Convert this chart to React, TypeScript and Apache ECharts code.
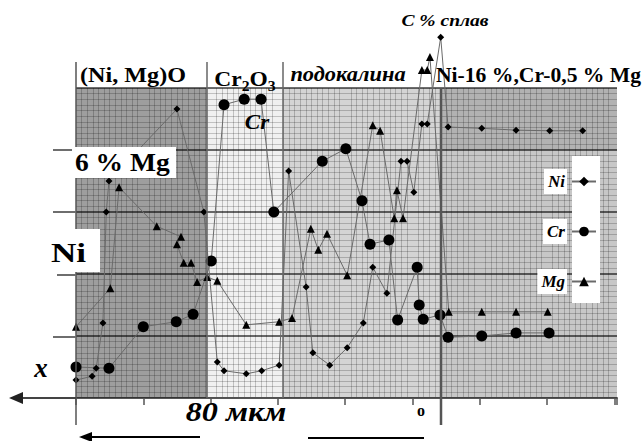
import React, { useEffect, useRef } from 'react';
import * as echarts from 'echarts';

// distance along the scale (grid divisions) and concentration level (grid divisions)
const niX = [0, 0.24, 0.3, 0.4, 0.45, 0.49, 1.5, 1.9, 2.1, 2.2, 2.53, 2.76, 3.02, 3.16, 3.42, 3.52, 3.77, 4.03, 4.27, 4.41, 4.62, 4.83, 4.92, 5.02, 5.14, 5.22, 5.42, 5.53, 6.03, 6.54, 7.04, 7.53];
const niY = [0.29, 0.35, 0.48, 1.21, 3.0, 3.5, 4.66, 3.0, 0.58, 0.44, 0.39, 0.44, 0.53, 3.66, 1.79, 0.73, 0.53, 0.81, 1.21, 2.11, 1.69, 3.82, 3.82, 3.32, 4.42, 4.42, 5.82, 4.37, 4.35, 4.32, 4.31, 4.31];

const crX = [0, 0.49, 1.0, 1.49, 1.74, 2.01, 2.2, 2.5, 2.75, 2.94, 3.66, 4.01, 4.25, 4.37, 4.65, 4.78, 5.07, 5.1, 5.16, 5.41, 5.53, 6.03, 6.54, 7.03];
const crY = [0.5, 0.48, 1.15, 1.23, 1.35, 2.21, 4.73, 4.82, 4.82, 3.0, 3.82, 4.02, 3.18, 2.48, 2.55, 1.26, 2.11, 1.5, 1.27, 1.34, 0.98, 1.0, 1.05, 1.05];

const mgX = [0, 0.51, 0.64, 1.2, 1.56, 1.5, 1.6, 1.71, 1.8, 1.95, 2.1, 2.53, 3.02, 3.21, 3.49, 3.6, 3.73, 4.03, 4.41, 4.52, 4.73, 4.77, 4.86, 5.14, 5.22, 5.26, 5.54, 6.03, 6.54, 7.01];
const mgY = [1.15, 1.77, 3.4, 2.77, 2.6, 2.48, 2.18, 2.18, 1.87, 1.95, 1.89, 1.18, 1.23, 1.29, 2.73, 2.39, 2.65, 1.98, 4.4, 4.31, 2.9, 3.35, 2.9, 5.29, 5.29, 5.5, 1.39, 1.39, 1.39, 1.39];

const seriesNames = ['Ni', 'Cr', 'Mg'];
const regionBounds = [0, 1.95, 3.08, 5.41, 8.04];
const regionLabels = ['(Ni, Mg)O', 'Cr2O3', 'подокалина', 'Ni-16 %,Cr-0,5 % Mg'];

const SERIF = '"Liberation Serif", "DejaVu Serif", serif';

export default function App() {
  const ref = useRef<HTMLDivElement>(null);
  useEffect(() => {
    if (!ref.current) return;
    const chart = echarts.init(ref.current, null, { renderer: 'svg' });
    const pair = (xs: number[], ys: number[]) => xs.map((x, i) => [x, ys[i]]);
    const lineCol = '#6a6a6a';
    const txt = (text: string, x: number, y: number, size: number, opts: any = {}) => ({
      type: 'text', x, y, z: 20, scaleX: opts.sx || 1,
      style: {
        text, fontFamily: SERIF, fontWeight: 'bold', fontSize: size, fill: '#000',
        align: opts.align || 'center', verticalAlign: 'middle', fontStyle: opts.italic ? 'italic' : 'normal',
      },
    });
    const vline = (x: number, y1: number, y2: number, w: number, c = '#555') => ({
      type: 'line', z: 6, shape: { x1: x, y1, x2: x, y2 }, style: { stroke: c, lineWidth: w },
    });
    const hline = (y: number, x1: number, x2: number, w: number, c = '#6e6e6e') => ({
      type: 'line', z: 6, shape: { x1, y1: y, x2, y2: y }, style: { stroke: c, lineWidth: w },
    });

    const option: any = {
      animation: false,
      backgroundColor: '#fff',
      grid: { left: 76, right: 25, top: 88, bottom: 43 },
      xAxis: {
        type: 'value', min: 0, max: 8.04, interval: 1,
        axisLabel: { show: false },
        axisLine: { show: true, lineStyle: { color: '#555', width: 2 } },
        axisTick: { show: true, length: 7, lineStyle: { color: '#555', width: 1.5 } },
        splitLine: { show: false },
        minorTick: { show: false, splitNumber: 12 },
        minorSplitLine: { show: true, lineStyle: { color: 'rgba(0,0,0,0.2)', width: 1 } },
      },
      yAxis: {
        type: 'value', min: 0, max: 5, interval: 1,
        axisLabel: { show: false }, axisLine: { show: false }, axisTick: { show: false },
        splitLine: { show: true, lineStyle: { color: '#6e6e6e', width: 2 } },
        minorTick: { show: false, splitNumber: 11 },
        minorSplitLine: { show: true, lineStyle: { color: 'rgba(0,0,0,0.2)', width: 1 } },
      },
      legend: {
        data: seriesNames, orient: 'vertical', right: 40, top: 164, align: 'right',
        itemWidth: 24, itemHeight: 12, itemGap: 25, z: 8,
        textStyle: { fontFamily: SERIF, fontStyle: 'italic', fontWeight: 'bold', fontSize: 17, color: '#000', backgroundColor: '#fff', padding: [4, 2, 4, 4] },
      },
      series: [
        {
          name: 'regions', type: 'line', data: [], z: 1, silent: true,
          markArea: {
            silent: true,
            data: [
              [{ xAxis: regionBounds[0], yAxis: 0, itemStyle: { color: 'rgba(0,0,0,0.38)' } }, { xAxis: regionBounds[1], yAxis: 5 }],
              [{ xAxis: regionBounds[1], yAxis: 0, itemStyle: { color: 'rgba(0,0,0,0.06)' } }, { xAxis: regionBounds[2], yAxis: 5 }],
              [{ xAxis: regionBounds[2], yAxis: 0, itemStyle: { color: 'rgba(0,0,0,0.17)' } }, { xAxis: regionBounds[3], yAxis: 5 }],
              [{ xAxis: regionBounds[3], yAxis: 4, itemStyle: { color: 'rgba(0,0,0,0.30)' } }, { xAxis: regionBounds[4], yAxis: 5 }],
              [{ xAxis: regionBounds[3], yAxis: 0, itemStyle: { color: 'rgba(0,0,0,0.22)' } }, { xAxis: regionBounds[4], yAxis: 4 }],
            ],
          },
        },
        {
          name: 'Ni', type: 'line', data: pair(niX, niY), symbol: 'diamond', symbolSize: 7, clip: false, z: 3,
          lineStyle: { color: lineCol, width: 1 }, itemStyle: { color: '#000' },
        },
        {
          name: 'Cr', type: 'line', data: pair(crX, crY), symbol: 'circle', symbolSize: 11, clip: false, z: 3,
          lineStyle: { color: lineCol, width: 1 }, itemStyle: { color: '#000' },
        },
        {
          name: 'Mg', type: 'line', data: pair(mgX, mgY), symbol: 'triangle', symbolSize: 8, clip: false, z: 3,
          lineStyle: { color: lineCol, width: 1 }, itemStyle: { color: '#000' },
        },
      ],
      graphic: [
        // region separators
        vline(76, 62, 425, 1.5),
        vline(207, 62, 398, 1.5, '#666'),
        vline(283, 62, 398, 1.5, '#666'),
        vline(441, 88, 425, 2.5, '#555'),
        // horizontal rules extending left of the plot
        hline(150, 53, 76, 2), hline(212, 53, 76, 2), hline(275, 57, 76, 2), hline(337, 53, 76, 2),
        // x axis extension + arrow
        { type: 'line', z: 6, shape: { x1: 16, y1: 398, x2: 76, y2: 398 }, style: { stroke: '#444', lineWidth: 2 } },
        { type: 'polygon', z: 6, shape: { points: [[9, 398], [23, 392], [23, 404]] }, style: { fill: '#222' } },
        // bottom arrows
        { type: 'line', z: 6, shape: { x1: 88, y1: 437, x2: 200, y2: 437 }, style: { stroke: '#000', lineWidth: 2 } },
        { type: 'polygon', z: 6, shape: { points: [[79, 437], [92, 432], [92, 442]] }, style: { fill: '#000' } },
        { type: 'line', z: 6, shape: { x1: 308, y1: 438, x2: 424, y2: 438 }, style: { stroke: '#000', lineWidth: 2 } },
        // legend white box
        { type: 'rect', z: 5, shape: { x: 572, y: 156, width: 28, height: 147 }, style: { fill: '#fff' } },
        // label boxes
        { type: 'rect', z: 10, shape: { x: 72, y: 147, width: 104, height: 31 }, style: { fill: '#fff' } },
        { type: 'rect', z: 10, shape: { x: 48, y: 229, width: 52, height: 43 }, style: { fill: '#fff' } },
        txt('6 % Mg', 75, 163, 25, { align: 'left', sx: 1.1 }),
        txt('Ni', 51, 253, 27, { align: 'left', sx: 1.3 }),
        txt('Cr', 257, 122, 21, { italic: true, sx: 1.1 }),
        txt('C % сплав', 445, 20, 17, { italic: true, sx: 1.15 }),
        txt(regionLabels[0], 133, 75, 21, { sx: 1.15 }),
        {
          type: 'text', x: 245, y: 77, z: 20, scaleX: 1.12,
          style: {
            text: '{a|Cr}{s|2}{a|O}{s|3}', align: 'center', verticalAlign: 'middle',
            rich: {
              a: { fontFamily: SERIF, fontWeight: 'bold', fontSize: 21, fill: '#000', verticalAlign: 'bottom', lineHeight: 24 },
              s: { fontFamily: SERIF, fontWeight: 'bold', fontSize: 14, fill: '#000', verticalAlign: 'bottom', lineHeight: 18, padding: [0, 0, -4, 0] },
            },
          },
        },
        txt(regionLabels[2], 348, 74, 20, { italic: true, sx: 1.12 }),
        txt(regionLabels[3], 436, 75, 21, { align: 'left', sx: 1.03 }),
        txt('x', 41, 368, 27, { italic: true }),
        txt('80 мкм', 236, 412, 28, { italic: true, sx: 1.15 }),
        txt('о', 421, 410, 16),
      ],
    };
    chart.setOption(option);
    return () => chart.dispose();
  }, []);
  return <div ref={ref} style={{ position: 'fixed', left: 0, top: 0, width: 642, height: 441 }} />;
}
